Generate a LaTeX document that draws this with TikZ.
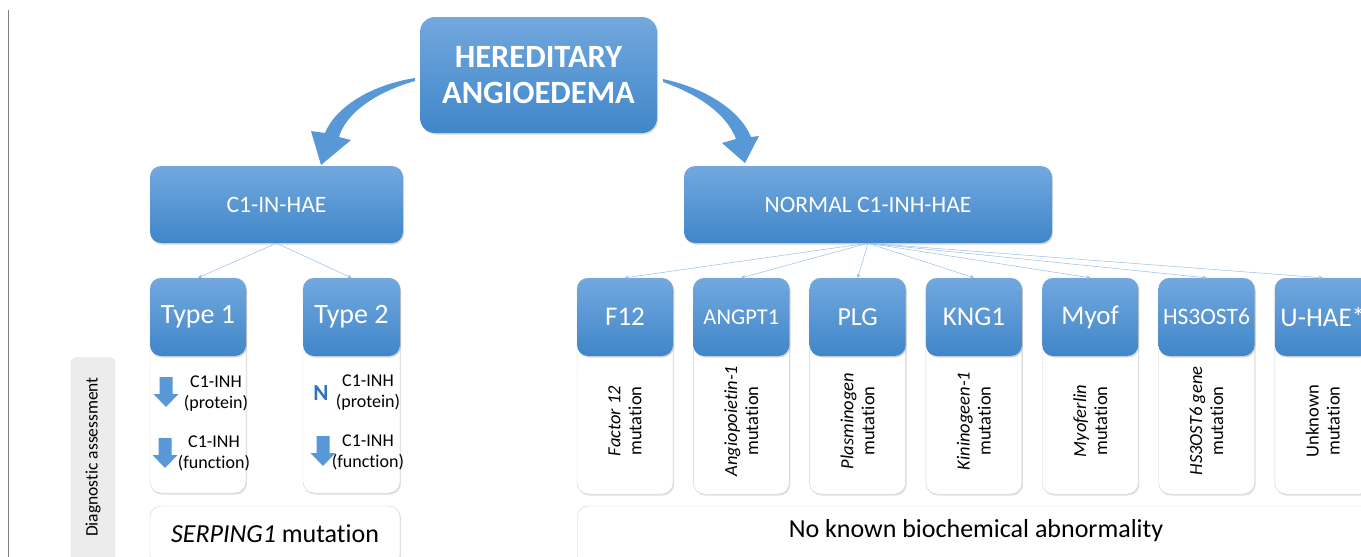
\documentclass[tikz,border=0pt]{standalone}
\usepackage{fontspec}
\setmainfont{Carlito}[Ligatures=NoCommon]
\usepackage{tikz}
\usetikzlibrary{positioning,arrows.meta,shadows}

\definecolor{haetop}{RGB}{114,168,222}
\definecolor{haebot}{RGB}{64,134,201}
\definecolor{haemid}{RGB}{88,152,214}
\definecolor{linkblue}{RGB}{150,190,232}
\definecolor{nblue}{RGB}{46,117,182}
\definecolor{diaggray}{RGB}{236,236,236}

\newcommand\fsz[1]{\fontsize{#1}{21}\selectfont}

\tikzset{
  headbox/.style={rectangle, rounded corners=11pt, top color=haetop, bottom color=haebot,
    draw=none, text=white, inner sep=0pt,
    drop shadow={shadow xshift=1pt, shadow yshift=-1.5pt, opacity=0.3}},
  bodybox/.style={rectangle, rounded corners=11pt, fill=white, draw=gray!35, inner sep=0pt,
    drop shadow={shadow xshift=1pt, shadow yshift=-1.5pt, opacity=0.25}},
  link/.style={draw=linkblue, line width=0.5pt, -{Stealth[length=4pt,width=4pt]}},
  downarrow/.pic={\fill[haemid] (-6.5,-15) -- (6.5,-15) -- (6.5,2) -- (12.5,2) -- (0,15) -- (-12.5,2) -- (-6.5,2) -- cycle;}
}

\begin{document}
\begin{tikzpicture}[x=1pt,y=-1pt]
  \useasboundingbox (0,0) rectangle (1361,557);
  \clip (0,0) rectangle (1361,557);

  % left rule
  \draw[gray, line width=0.6pt] (8,10) -- (8,557);

  % top box
  \node[headbox, minimum width=237pt, minimum height=116pt, rounded corners=15pt, align=center,
    font=\fontsize{32.5}{36}\selectfont\bfseries] (hae) at (538.5,75) {HEREDITARY\\ANGIOEDEMA};

  % big curved arrows
  \fill[haemid] (415,78) .. controls (370,85) and (335,108) .. (325,133) -- (311,131) -- (321,165)
    -- (351,140) -- (339,137) .. controls (346,113) and (376,92) .. (415,81) -- cycle;
  \fill[haemid] (663,79) .. controls (705,88) and (740,110) .. (751,137) -- (759,136) -- (745,163)
    -- (722,143) -- (736,139) .. controls (727,115) and (700,95) .. (663,82) -- cycle;

  % second level
  \node[headbox, minimum width=253pt, minimum height=77pt, font=\fsz{23.5}] (c1) at (276.5,204.5) {C1-IN-HAE};
  \node[headbox, minimum width=368pt, minimum height=77pt, font=\fsz{23.5}] (normal) at (868,204.5) {NORMAL C1-INH-HAE};

  % diagnostic assessment label
  \node[rectangle, rounded corners=6pt, fill=diaggray, draw=gray!25, minimum width=44pt, minimum height=215pt] (diag) at (93,465) {};
  \node[rotate=90, font=\fsz{17.5}] (diagtext) at (93,457) {Diagnostic assessment};

  % type 1 and type 2
  \node[bodybox, minimum width=96pt, minimum height=215pt] (t1body) at (198,385.5) {};
  \node[headbox, minimum width=96pt, minimum height=78pt, font=\fsz{28}] (t1head) at (198,317) {Type 1};
  \node[bodybox, minimum width=97pt, minimum height=215pt] (t2body) at (351.5,385.5) {};
  \node[headbox, minimum width=97pt, minimum height=78pt, font=\fsz{28}] (t2head) at (351.5,317) {Type 2};
  \draw[link] (c1.south) -- (t1head.north);
  \draw[link] (c1.south) -- (t2head.north);

  \pic at (166,392) {downarrow};
  \pic at (165,453) {downarrow};
  \pic at (323,451) {downarrow};
  \node[text=nblue, font=\fontsize{23}{23}\selectfont\bfseries] (nmark) at (321,393) {N};
  \node[align=center, font=\fsz{18}, inner sep=0pt] (t1prot) at (216,394) {C1-INH\\(protein)};
  \node[align=center, font=\fsz{18}, inner sep=0pt] (t1func) at (214,453) {C1-INH\\(function)};
  \node[align=center, font=\fsz{18}, inner sep=0pt] (t2prot) at (368,393) {C1-INH\\(protein)};
  \node[align=center, font=\fsz{18}, inner sep=0pt] (t2func) at (368,452) {C1-INH\\(function)};

  % genes
  \foreach \i/\gsize/\glabel/\gmut in {0/27/F12/{\textit{Factor 12}\\mutation},
      1/22.5/ANGPT1/{\textit{Angiopoietin-1}\\mutation},
      2/26/PLG/{\textit{Plasminogen}\\mutation},
      3/27/KNG1/{\textit{Kininogeen-1}\\mutation},
      4/27/Myof/{\textit{Myoferlin}\\mutation},
      5/23.5/HS3OST6/{\textit{HS3OST6 gene}\\mutation},
      6/27/U-HAE*/{Unknown\\mutation}}{
    \node[bodybox, minimum width=96pt, minimum height=216pt] (gbody\i) at (625+116.3*\i,386) {};
    \node[headbox, minimum width=96pt, minimum height=78pt, font=\fsz{\gsize}] (ghead\i) at (625+116.3*\i,317) {\glabel};
    \node[rotate=90, align=center, font=\fsz{18.5}] (gtext\i) at (625+116.3*\i,421) {\gmut};
    \draw[link] (normal.south) -- (ghead\i.north);
  }

  % bottom boxes
  \node[bodybox, minimum width=250pt, minimum height=60pt, font=\fsz{26}] (serping) at (275,536) {\raisebox{4pt}{\textit{SERPING1} mutation}};
  \node[bodybox, minimum width=800pt, minimum height=60pt, anchor=west] (noknown) at (577,536) {};
  \node[font=\fsz{26}] (noknowntext) at (976,531) {No known biochemical abnormality};
\end{tikzpicture}
\end{document}
